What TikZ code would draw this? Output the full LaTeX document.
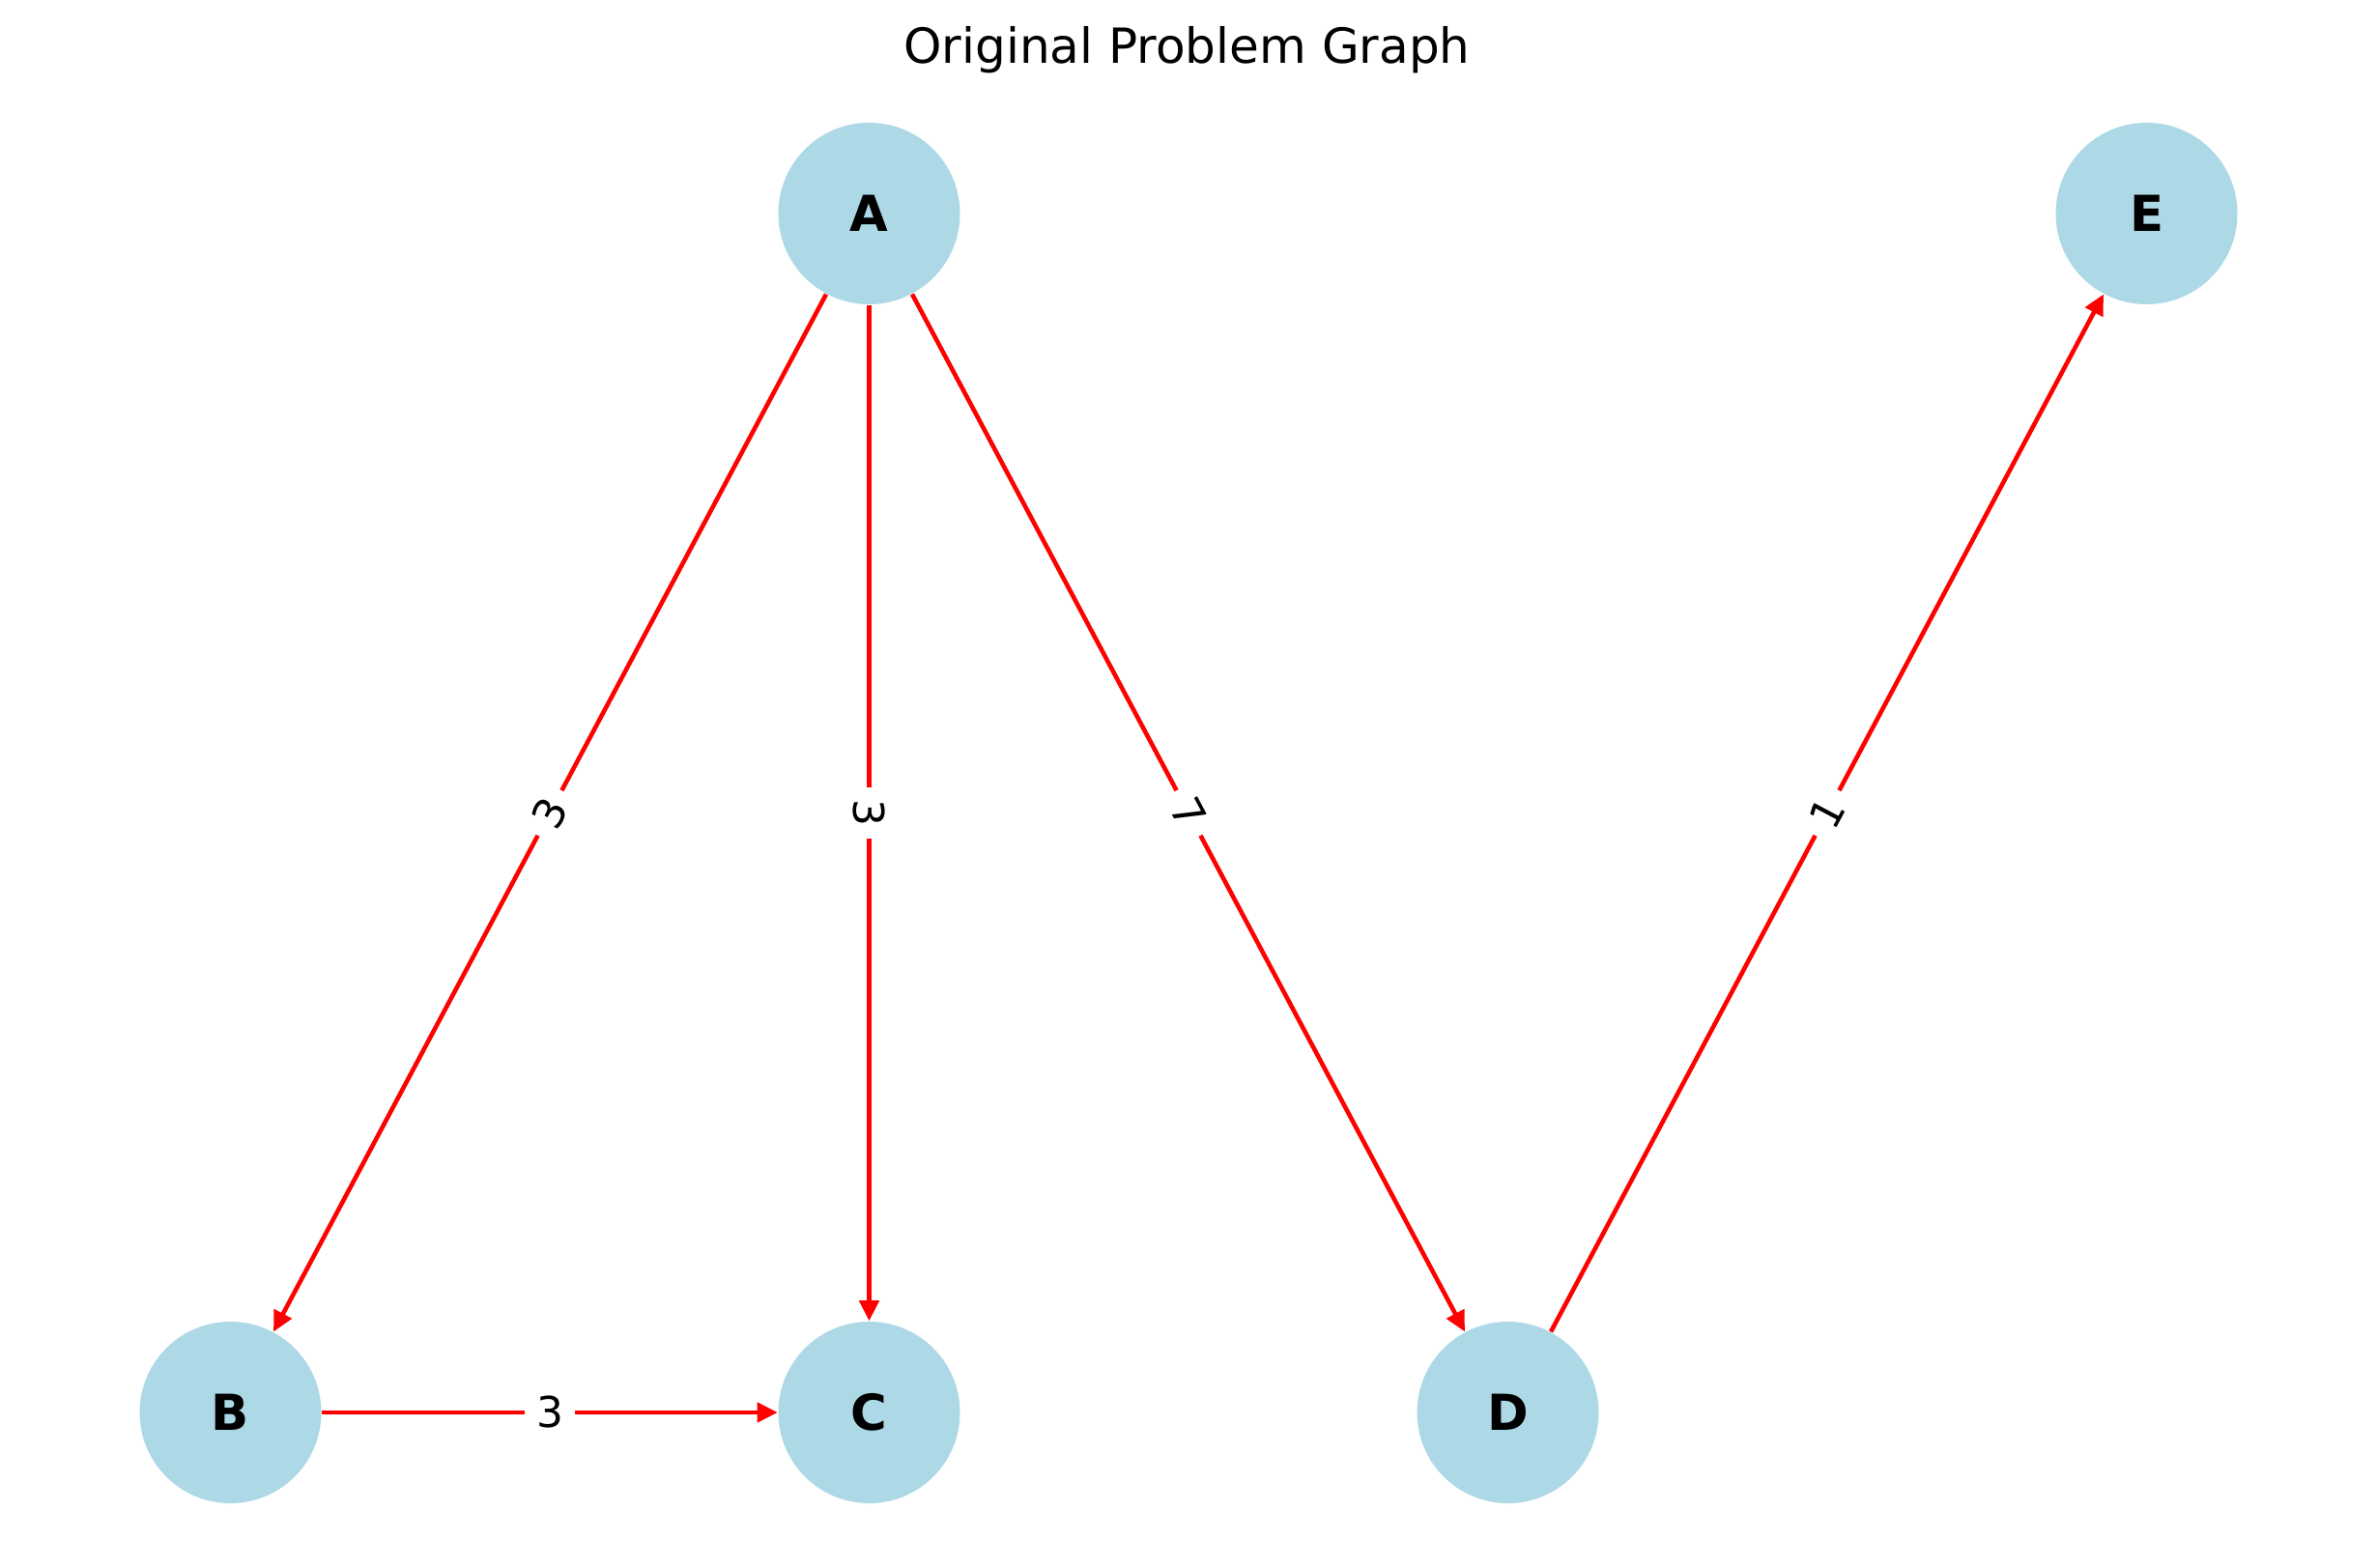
\documentclass[tikz,border=0pt]{standalone}
\usepackage{fontspec}
\setmainfont{DejaVu Sans}
\usetikzlibrary{arrows.meta}

\definecolor{nodeblue}{RGB}{173,216,230}

\begin{document}
\begin{tikzpicture}[
    vertex/.style={circle, fill=nodeblue, minimum size=1.88cm, inner sep=0pt,
        font=\fontsize{14.6}{16}\selectfont\bfseries},
    edge/.style={red, line width=1.3pt, -{Triangle[length=6pt,width=5.7pt]}},
    weight/.style={fill=white, text=black, inner sep=3.5pt, font=\fontsize{12.5}{14}\selectfont}
]
    \pgfmathsetmacro{\dx}{6.61}
    \pgfmathsetmacro{\yb}{1.60}
    \pgfmathsetmacro{\ya}{14.01}

    \useasboundingbox (0,0) rectangle (24.6,16.22);

    \node[font=\fontsize{14.25}{16}\selectfont] (title) at (12.285,15.70) {Original Problem Graph};

    \node[vertex] (A) at (2.385+\dx,\ya) {A};
    \node[vertex] (B) at (2.385,\yb) {B};
    \node[vertex] (C) at (2.385+\dx,\yb) {C};
    \node[vertex] (D) at (2.385+2*\dx,\yb) {D};
    \node[vertex] (E) at (2.385+3*\dx,\ya) {E};

    \draw[edge] (A) -- (B) node[weight, midway, rotate=62] {3};
    \draw[edge] (A) -- (C) node[weight, midway, rotate=-90] {3};
    \draw[edge] (A) -- (D) node[weight, midway, rotate=-62] {7};
    \draw[edge] (B) -- (C) node[weight, midway] {3};
    \draw[edge] (D) -- (E) node[weight, midway, rotate=62] {1};
\end{tikzpicture}
\end{document}
